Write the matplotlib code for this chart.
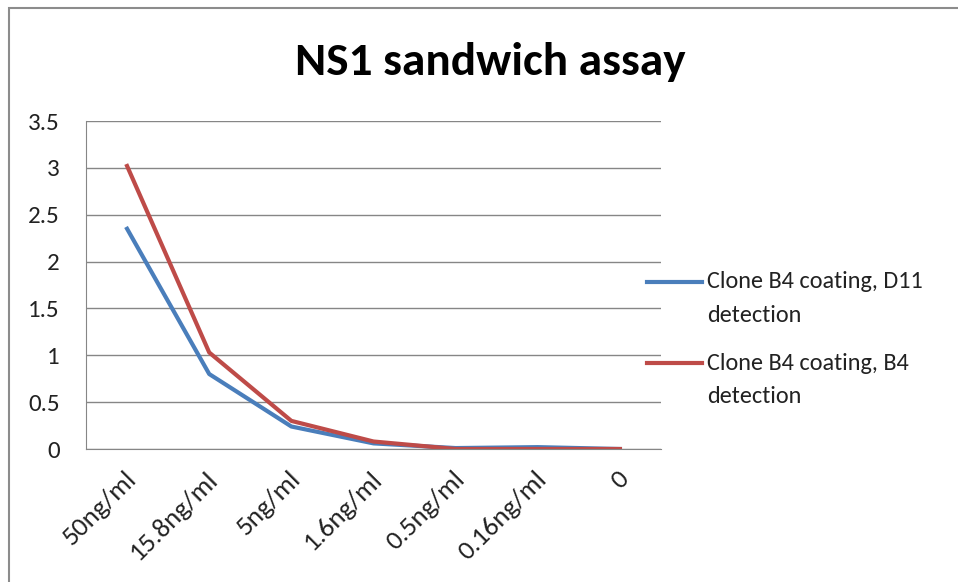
import matplotlib.pyplot as plt
from matplotlib.patches import Rectangle
from matplotlib.lines import Line2D
from matplotlib.transforms import ScaledTranslation

plt.rcParams['font.family'] = ['Carlito', 'Liberation Sans Narrow', 'DejaVu Sans']

categories = ["50ng/ml", "15.8ng/ml", "5ng/ml", "1.6ng/ml", "0.5ng/ml", "0.16ng/ml", "0"]
d11_detection = [2.35, 0.80, 0.24, 0.06, 0.01, 0.02, 0.0]
b4_detection = [3.02, 1.03, 0.30, 0.08, 0.0, 0.0, 0.0]
series_names = [("Clone B4 coating, D11", "detection"), ("Clone B4 coating, B4", "detection")]
series_colors = ["#4A7EBB", "#BE4B48"]
y_ticks = [0, 0.5, 1, 1.5, 2, 2.5, 3, 3.5]

W, H = 958, 582
fig = plt.figure(figsize=(W / 100, H / 100), dpi=100)
# chart frame like the Excel chart area
fig.patches.append(Rectangle((9 / W, -0.1), 1.2, 1 - 8 / H + 0.1, transform=fig.transFigure,
                             fill=False, edgecolor="#8c8c8c", linewidth=1.5))

ax = fig.add_axes([86 / W, 1 - 449 / H, 575 / W, 328 / H])
x = range(len(categories))
ax.plot(x, d11_detection, color=series_colors[0], linewidth=3)
ax.plot(x, b4_detection, color=series_colors[1], linewidth=3)

ax.set_xlim(-0.5, len(categories) - 0.5)
ax.set_ylim(0, 3.5)
ax.set_yticks(y_ticks)
ax.set_yticklabels([f"{v:g}" for v in y_ticks], fontsize=18, color="#222222")
ax.set_xticks(list(x))
ax.set_xticklabels(categories, rotation=45, ha="right", va="top", rotation_mode="anchor",
                   fontsize=19.5, color="#222222")
ax.tick_params(axis="x", length=0, pad=13)
ax.tick_params(axis="y", length=0, pad=19)
shift = ScaledTranslation(-3 / 100, 0, fig.dpi_scale_trans)
for lab in ax.get_xticklabels():
    lab.set_transform(lab.get_transform() + shift)
ax.grid(axis="y", color="#868686", linewidth=1)
ax.set_axisbelow(True)
for side in ["top", "right"]:
    ax.spines[side].set_visible(False)
for side in ["left", "bottom"]:
    ax.spines[side].set_color("#868686")

fig.text(490 / W, 1 - 62 / H, "NS1 sandwich assay", fontsize=34, fontweight="bold",
         ha="center", va="center")

# legend, Excel style: handle sits on the first text line
legend_y = [282, 363]
for (first, second), color, ly in zip(series_names, series_colors, legend_y):
    fig.add_artist(Line2D([647 / W, 702 / W], [1 - ly / H, 1 - ly / H], color=color,
                          linewidth=3, transform=fig.transFigure))
    fig.text(707 / W, 1 - (ly + 6.5) / H, first, fontsize=17.5, color="#222222",
             ha="left", va="baseline")
    fig.text(707 / W, 1 - (ly + 40) / H, second, fontsize=17.5, color="#222222",
             ha="left", va="baseline")

fig.savefig("out.png", dpi=100)
